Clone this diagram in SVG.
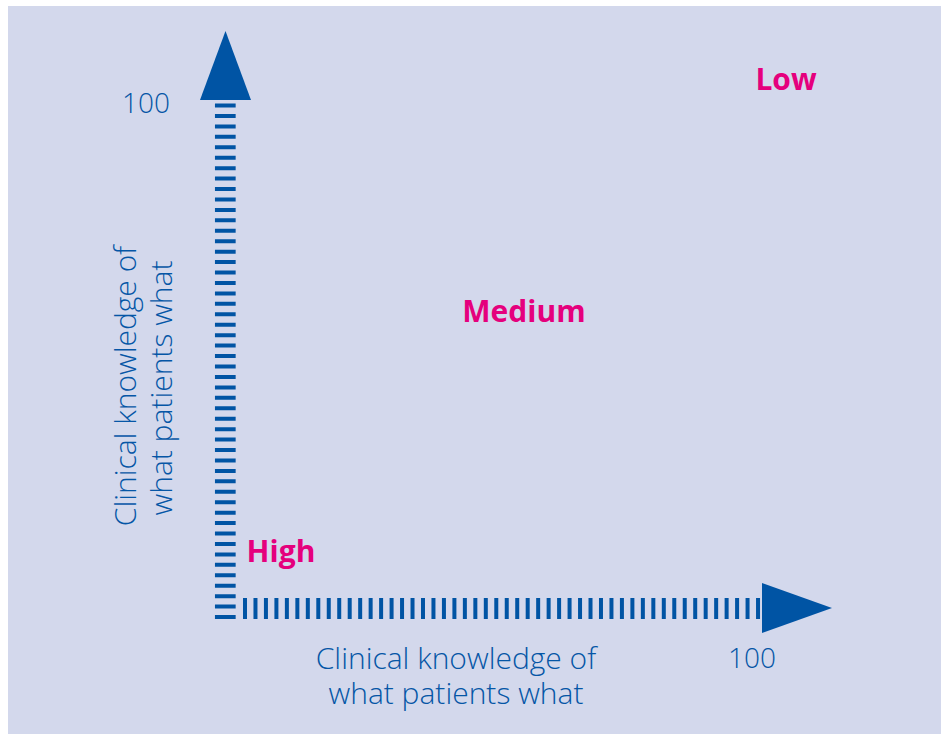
<svg xmlns="http://www.w3.org/2000/svg" width="941" height="734" viewBox="0 0 941 734">
<style>
.ax{stroke:#0054a4;fill:none}
.head{fill:#0054a4}
.lbl{font-family:"Open Sans","Liberation Sans",sans-serif;fill:#0556a6;font-size:30px;font-weight:300}
.num{font-size:28px}
.zone{font-family:"Open Sans","Liberation Sans",sans-serif;fill:#e5007d;font-size:30px;font-weight:700}
</style>
<rect x="0" y="0" width="941" height="734" fill="#ffffff"/>
<rect x="8" y="6" width="933" height="728" fill="#d3d8ec"/>
<g id="connectors">
<line class="ax" x1="225.3" y1="103.5" x2="225.3" y2="620" stroke-width="20.7" stroke-dasharray="4 6.44"/>
<polygon class="head" points="200,100 251,100 225.5,31"/>
<line class="ax" x1="243" y1="608.5" x2="762" y2="608.5" stroke-width="21" stroke-dasharray="4 6.47"/>
<polygon class="head" points="762,583 762,633 832,608"/>
</g>
<g id="y-axis-label">
<text class="lbl" text-anchor="middle" transform="translate(136,386) rotate(-90)">Clinical knowledge of</text>
<text class="lbl" text-anchor="middle" transform="translate(172,388) rotate(-90)">what patients what</text>
</g>
<g id="x-axis-label">
<text class="lbl" x="456" y="669" text-anchor="middle">Clinical knowledge of</text>
<text class="lbl" x="456" y="704" text-anchor="middle">what patients what</text>
</g>
<g id="y-max"><text class="lbl num" x="146" y="113" text-anchor="middle">100</text></g>
<g id="x-max"><text class="lbl num" x="752" y="668" text-anchor="middle">100</text></g>
<g id="low"><text class="zone" x="786" y="90" text-anchor="middle">Low</text></g>
<g id="medium"><text class="zone" x="524" y="322" text-anchor="middle">Medium</text></g>
<g id="high"><text class="zone" x="281" y="562" text-anchor="middle">High</text></g>
</svg>
